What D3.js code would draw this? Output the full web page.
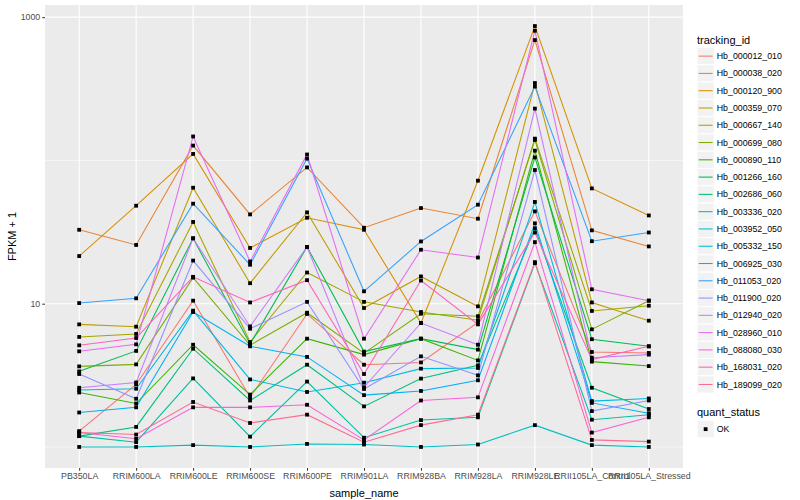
<!DOCTYPE html>
<html>
<head>
<meta charset="utf-8">
<script src="https://cdn.jsdelivr.net/npm/d3@7"></script>
<style>
  body { margin: 0; background: #fff; }
  svg text { font-family: "Liberation Sans", Arial, sans-serif; }
</style>
</head>
<body>
<div id="line-chart"></div>
<script>
// Data (FPKM + 1, one row per tracking id)
var samples = ["PB350LA", "RRIM600LA", "RRIM600LE", "RRIM600SE", "RRIM600PE",
  "RRIM901LA", "RRIM928BA", "RRIM928LA", "RRIM928LE", "RRII105LA_Control",
  "RRII105LA_Stressed"];

var trackingIds = ["Hb_000012_010", "Hb_000038_020", "Hb_000120_900",
  "Hb_000359_070", "Hb_000667_140", "Hb_000699_080", "Hb_000890_110",
  "Hb_001266_160", "Hb_002686_060", "Hb_003336_020", "Hb_003952_050",
  "Hb_005332_150", "Hb_006925_030", "Hb_011053_020", "Hb_011900_020",
  "Hb_012940_020", "Hb_028960_010", "Hb_088080_030", "Hb_168031_020",
  "Hb_189099_020"];

var fpkmPlusOne = [
  [1.29, 2.73, 10.5, 2.22, 8.48, 3.75, 3.89, 7.41, 44.1, 4.60, 4.53],
  [32.8, 25.7, 127, 42.0, 89.4, 33.9, 46.5, 39.2, 692, 32.5, 25.1],
  [21.5, 48.3, 111, 24.5, 39.8, 32.8, 7.33, 72.2, 867, 63.8, 41.3],
  [7.17, 6.91, 64.5, 13.9, 43.4, 9.33, 15.5, 9.58, 347, 10.2, 7.61],
  [5.86, 6.15, 37.2, 5.40, 16.5, 10.3, 8.75, 7.67, 142, 8.90, 9.68],
  [3.65, 3.77, 15.2, 5.13, 8.65, 4.52, 8.51, 8.18, 139, 6.62, 10.5],
  [2.40, 2.01, 5.17, 2.32, 5.70, 4.41, 5.70, 4.02, 117, 3.94, 3.67],
  [3.37, 4.68, 28.6, 5.23, 24.9, 4.63, 5.70, 4.78, 105, 5.65, 5.04],
  [1.19, 1.38, 4.85, 2.11, 3.75, 1.92, 3.00, 3.71, 33.6, 2.59, 1.84],
  [1.19, 1.08, 3.01, 1.18, 2.86, 1.16, 1.54, 1.61, 19.2, 1.55, 1.68],
  [1.00, 1.00, 1.03, 1.00, 1.05, 1.04, 1.00, 1.04, 1.42, 1.03, 1.00],
  [2.50, 2.55, 8.94, 2.96, 2.42, 2.81, 3.52, 3.56, 51.3, 2.09, 2.18],
  [1.74, 1.89, 8.75, 5.04, 4.25, 2.30, 2.46, 2.92, 36.4, 2.03, 1.72],
  [10.1, 10.9, 49.9, 18.7, 103, 12.2, 27.2, 49.1, 328, 27.3, 31.4],
  [3.23, 2.17, 20.0, 6.69, 10.3, 2.54, 4.29, 3.16, 85.7, 1.78, 2.11],
  [2.59, 2.82, 28.6, 6.94, 24.9, 2.61, 7.33, 5.17, 230, 4.20, 4.41],
  [4.65, 5.20, 147, 19.7, 110, 5.70, 23.8, 21.0, 804, 12.6, 10.5],
  [1.26, 1.14, 1.89, 1.89, 1.97, 1.12, 2.11, 2.22, 26.9, 1.26, 1.61],
  [5.12, 5.76, 15.4, 10.2, 14.6, 3.23, 14.5, 7.17, 31.4, 4.07, 5.04],
  [1.26, 1.22, 2.06, 1.47, 1.68, 1.08, 1.42, 1.68, 19.5, 1.12, 1.09]
];

var yTicks = [10, 1000];
var yMinorTicks = [1, 100];
var quantStatus = ["OK"];

// ggplot2 default hue palette for 20 groups
var hueColors = ["#F8766D", "#EA8331", "#D89000", "#C09B00", "#A3A500",
  "#7CAE00", "#39B600", "#00BB4E", "#00BF7D", "#00C1A3", "#00BFC4",
  "#00BAE0", "#00B0F6", "#35A2FF", "#9590FF", "#C77CFF", "#E76BF3",
  "#FA62DB", "#FF62BC", "#FF6C91"];

var render = function() {
  var width = 800;
  var height = 500;
  var margins = { top: 5, right: 117, bottom: 32, left: 45 };
  var chartWidth = width - margins.left - margins.right;
  var chartHeight = height - margins.top - margins.bottom;

  var container = d3.select("#line-chart");
  container.html("");

  var svg = container
    .append("svg")
    .attr("width", width)
    .attr("height", height);

  var series = trackingIds.map(function(id, i) {
    return {
      id: id,
      values: samples.map(function(s, j) {
        return { sample: s, value: fpkmPlusOne[i][j] };
      })
    };
  });

  // log domain with ggplot's 5% expansion
  var allValues = d3.merge(fpkmPlusOne);
  var lo = Math.log10(d3.min(allValues));
  var hi = Math.log10(d3.max(allValues));
  var pad = (hi - lo) * 0.05;

  var xScale = d3
    .scalePoint()
    .domain(samples)
    .range([0, chartWidth])
    .padding(0.6);

  var yScale = d3
    .scaleLog()
    .domain([Math.pow(10, lo - pad), Math.pow(10, hi + pad)])
    .range([chartHeight, 0]);

  var colorScale = d3.scaleOrdinal().domain(trackingIds).range(hueColors);

  var chart = svg
    .append("g")
    .attr("transform", "translate(" + margins.left + "," + margins.top + ")");

  // Panel + grid
  chart
    .append("rect")
    .attr("width", chartWidth)
    .attr("height", chartHeight)
    .attr("fill", "#EBEBEB");

  chart
    .append("g")
    .selectAll("line")
    .data(yMinorTicks)
    .enter()
    .append("line")
    .attr("x1", 0)
    .attr("x2", chartWidth)
    .attr("y1", d => yScale(d))
    .attr("y2", d => yScale(d))
    .attr("stroke", "#fff")
    .attr("stroke-width", 0.55);

  chart
    .append("g")
    .selectAll("line")
    .data(yTicks)
    .enter()
    .append("line")
    .attr("x1", 0)
    .attr("x2", chartWidth)
    .attr("y1", d => yScale(d))
    .attr("y2", d => yScale(d))
    .attr("stroke", "#fff")
    .attr("stroke-width", 1.1);

  chart
    .append("g")
    .selectAll("line")
    .data(samples)
    .enter()
    .append("line")
    .attr("x1", d => xScale(d))
    .attr("x2", d => xScale(d))
    .attr("y1", 0)
    .attr("y2", chartHeight)
    .attr("stroke", "#fff")
    .attr("stroke-width", 1.1);

  // Axes
  var xAxis = d3.axisBottom(xScale).tickSize(2.75).tickPadding(2.5);
  var yAxis = d3
    .axisLeft(yScale)
    .tickValues(yTicks)
    .tickFormat(d3.format("d"))
    .tickSize(2.75)
    .tickPadding(2);

  var xAxisG = chart
    .append("g")
    .attr("transform", "translate(0," + chartHeight + ")")
    .call(xAxis);

  var yAxisG = chart.append("g").call(yAxis);

  [xAxisG, yAxisG].forEach(function(g) {
    g.select(".domain").remove();
    g.selectAll(".tick line").attr("stroke", "#333333");
    g.selectAll(".tick text")
      .attr("fill", "#4D4D4D")
      .style("font-size", "8.8px");
  });

  // Lines
  var line = d3
    .line()
    .x(d => xScale(d.sample))
    .y(d => yScale(d.value));

  chart
    .append("g")
    .selectAll("path")
    .data(series)
    .enter()
    .append("path")
    .attr("d", d => line(d.values))
    .attr("fill", "none")
    .attr("stroke", d => colorScale(d.id))
    .attr("stroke-width", 1.07);

  // Points
  chart
    .append("g")
    .selectAll("g")
    .data(series)
    .enter()
    .append("g")
    .selectAll("rect")
    .data(d => d.values)
    .enter()
    .append("rect")
    .attr("x", d => xScale(d.sample) - 1.9)
    .attr("y", d => yScale(d.value) - 1.9)
    .attr("width", 3.8)
    .attr("height", 3.8)
    .attr("fill", "#000");

  // Axis titles
  svg
    .append("text")
    .attr("x", margins.left + chartWidth / 2)
    .attr("y", 497)
    .attr("text-anchor", "middle")
    .style("font-size", "11px")
    .text("sample_name");

  svg
    .append("text")
    .attr("transform", "translate(16," + (margins.top + chartHeight / 2) + ") rotate(-90)")
    .attr("text-anchor", "middle")
    .style("font-size", "11px")
    .text("FPKM + 1");

  // Legend: tracking_id
  var legendX = 697;
  var keySize = 17.28;

  var legend = svg.append("g").attr("transform", "translate(" + legendX + ",0)");

  legend
    .append("text")
    .attr("x", 0)
    .attr("y", 44)
    .style("font-size", "11px")
    .text("tracking_id");

  var items = legend
    .selectAll(".key-item")
    .data(trackingIds)
    .enter()
    .append("g")
    .attr("class", "key-item")
    .attr("transform", (d, i) => "translate(0," + (47.5 + i * keySize) + ")");

  items
    .append("rect")
    .attr("width", keySize)
    .attr("height", keySize)
    .attr("fill", "#F2F2F2")
    .attr("stroke", "#fff")
    .attr("stroke-width", 1);

  items
    .append("line")
    .attr("x1", 1.7)
    .attr("x2", keySize - 1.7)
    .attr("y1", keySize / 2)
    .attr("y2", keySize / 2)
    .attr("stroke", d => colorScale(d))
    .attr("stroke-width", 1.07);

  items
    .append("text")
    .attr("x", keySize + 2.5)
    .attr("y", keySize / 2)
    .attr("dy", "0.35em")
    .style("font-size", "8.8px")
    .text(d => d);

  // Legend: quant_status
  legend
    .append("text")
    .attr("x", 0)
    .attr("y", 416)
    .style("font-size", "11px")
    .text("quant_status");

  var okItems = legend
    .selectAll(".ok-item")
    .data(quantStatus)
    .enter()
    .append("g")
    .attr("class", "ok-item")
    .attr("transform", "translate(0,420.5)");

  okItems
    .append("rect")
    .attr("width", keySize)
    .attr("height", keySize)
    .attr("fill", "#F2F2F2")
    .attr("stroke", "#fff");

  okItems
    .append("rect")
    .attr("x", keySize / 2 - 1.9)
    .attr("y", keySize / 2 - 1.9)
    .attr("width", 3.8)
    .attr("height", 3.8)
    .attr("fill", "#000");

  okItems
    .append("text")
    .attr("x", keySize + 2.5)
    .attr("y", keySize / 2)
    .attr("dy", "0.35em")
    .style("font-size", "8.8px")
    .text(d => d);
};

window.onload = render;
</script>
</body>
</html>
